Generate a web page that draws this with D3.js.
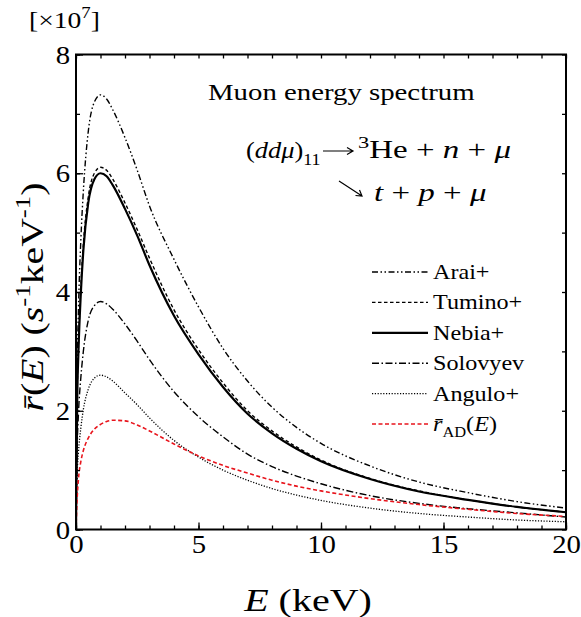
<!DOCTYPE html>
<html><head><meta charset="utf-8">
<script src="https://cdn.jsdelivr.net/npm/d3@7"></script>
<style>
body{margin:0;background:#fff}
svg{display:block}
text{font-family:"Liberation Serif","Times New Roman",serif;fill:#000}
</style>
</head><body><svg id="c" width="581" height="617"></svg>
<script>
// ---- data ----
const energy   = [0, 0.05, 0.1, 0.2, 0.3, 0.5, 0.75, 1, 1.25, 1.5, 2, 2.5, 3, 4, 5, 6, 7, 8, 9, 10, 12, 14, 16, 18, 20];
const arai     = [0, 2.7, 3.7, 4.9, 5.7, 6.7, 7.2, 7.32, 7.25, 7.07, 6.6, 6.05, 5.45, 4.55, 3.75, 3.05, 2.5, 2.06, 1.72, 1.45, 1.07, 0.8, 0.62, 0.47, 0.36];
const tumino   = [0, 2.3, 3.1, 4.1, 4.8, 5.6, 6.0, 6.1, 6.05, 5.9, 5.5, 5.05, 4.57, 3.7, 3.03, 2.47, 2.0, 1.66, 1.39, 1.17, 0.86, 0.65, 0.5, 0.38, 0.29];
const nebia    = [0, 2.2, 3.0, 4.0, 4.7, 5.5, 5.9, 6.0, 5.95, 5.8, 5.4, 4.95, 4.45, 3.6, 2.95, 2.4, 1.95, 1.62, 1.36, 1.15, 0.85, 0.64, 0.5, 0.38, 0.29];
const solovyev = [0, 1.4, 1.95, 2.57, 3.0, 3.52, 3.77, 3.84, 3.8, 3.71, 3.46, 3.17, 2.86, 2.32, 1.9, 1.56, 1.27, 1.06, 0.9, 0.77, 0.57, 0.44, 0.35, 0.28, 0.21];
const angulo   = [0, 0.95, 1.3, 1.72, 2.02, 2.36, 2.55, 2.6, 2.57, 2.5, 2.3, 2.1, 1.88, 1.5, 1.22, 1.0, 0.83, 0.69, 0.58, 0.49, 0.36, 0.27, 0.21, 0.16, 0.13];
const rAD      = [0, 0.55, 0.85, 1.15, 1.33, 1.54, 1.69, 1.77, 1.82, 1.84, 1.83, 1.76, 1.66, 1.44, 1.24, 1.08, 0.95, 0.83, 0.73, 0.65, 0.52, 0.42, 0.34, 0.27, 0.22];
const xTickLabels = [0, 5, 10, 15, 20];
const yTickLabels = [0, 2, 4, 6, 8];
const seriesNames = ["Arai+", "Tumino+", "Nebia+", "Solovyev", "Angulo+", "rAD"];

const series = [
  {name: seriesNames[0], values: arai,     color: "#000", width: 1.4, dash: "6,2.5,1.5,2.5,1.5,2.5"},
  {name: seriesNames[1], values: tumino,   color: "#000", width: 1.4, dash: "3.5,2.5"},
  {name: seriesNames[2], values: nebia,    color: "#000", width: 2.2, dash: null},
  {name: seriesNames[3], values: solovyev, color: "#000", width: 1.4, dash: "7,2.5,1.5,2.5"},
  {name: seriesNames[4], values: angulo,   color: "#000", width: 1.3, dash: "1.2,1.6"},
  {name: seriesNames[5], values: rAD,      color: "#e8141c", width: 1.6, dash: "4,2.5"}
];

const svg = d3.select("#c");
const L = 76, R = 566, T = 54.5, B = 529.5;
const x = d3.scaleLinear().domain([0, 20]).range([L, R]);
const y = d3.scaleLinear().domain([0, 8]).range([B, T]);
const SERIF = '"Liberation Serif","Times New Roman",serif';

svg.append("clipPath").attr("id", "clip").append("rect")
  .attr("x", L).attr("y", T).attr("width", R - L).attr("height", B - T);

// curves
const line = d3.line().x(d => x(d[0])).y(d => y(d[1])).curve(d3.curveMonotoneX);
const cg = svg.append("g").attr("clip-path", "url(#clip)");
series.forEach(s => {
  cg.append("path")
    .datum(energy.map((e, i) => [e, s.values[i]]))
    .attr("d", line).attr("fill", "none")
    .attr("stroke", s.color).attr("stroke-width", s.width)
    .attr("stroke-dasharray", s.dash);
});

// axes
const fs = 25, tsx = 1.15;
function styleAxis(g) {
  g.select(".domain").remove();
  g.selectAll("line").attr("stroke", "#000").attr("stroke-width", 1.3);
  g.selectAll("text").style("font-family", SERIF).attr("font-size", fs).attr("fill", "#000");
}
svg.append("g").attr("transform", `translate(0,${B})`)
  .call(d3.axisBottom(x).tickValues(d3.range(0, 21, 1)).tickSize(-4).tickFormat("")).call(styleAxis);
svg.append("g").attr("transform", `translate(0,${B})`)
  .call(d3.axisBottom(x).tickValues(xTickLabels).tickSize(-7).tickPadding(6).tickFormat(d3.format("d")))
  .call(styleAxis)
  .call(g => g.selectAll("text").attr("dy", "0.72em").attr("transform", `scale(${tsx},1)`));
svg.append("g").attr("transform", `translate(0,${T})`)
  .call(d3.axisTop(x).tickValues(d3.range(0, 21, 1)).tickSize(-4).tickFormat("")).call(styleAxis);
svg.append("g").attr("transform", `translate(${L},0)`)
  .call(d3.axisLeft(y).tickValues(d3.range(0, 9, 1)).tickSize(-4).tickFormat("")).call(styleAxis);
svg.append("g").attr("transform", `translate(${L},0)`)
  .call(d3.axisLeft(y).tickValues(yTickLabels).tickSize(-7).tickPadding(6).tickFormat(d3.format("d")))
  .call(styleAxis)
  .call(g => g.selectAll("text").attr("dy", "0.34em").attr("x", -6 / tsx).attr("transform", `scale(${tsx},1)`));
svg.append("g").attr("transform", `translate(${R},0)`)
  .call(d3.axisRight(y).tickValues(d3.range(0, 9, 1)).tickSize(-4).tickFormat("")).call(styleAxis);

svg.append("rect").attr("x", L).attr("y", T).attr("width", R - L).attr("height", B - T)
  .attr("fill", "none").attr("stroke", "#000").attr("stroke-width", 2);

// text helper: parts = strings or {t, i:italic, sup, sub}
function rich(parent, parts, size, sx) {
  const t = parent.append("text").attr("font-size", size).style("font-family", SERIF)
    .attr("transform", `scale(${sx || 1},1)`);
  let shift = 0;
  parts.forEach(p => {
    if (typeof p === "string") p = {t: p};
    const target = p.sup ? -0.42 * size : p.sub ? 0.3 * size : 0;
    const ts = t.append("tspan").text(p.t);
    if (p.i) ts.attr("font-style", "italic");
    if (p.sup || p.sub) ts.attr("font-size", size * 0.68);
    if (target !== shift) { ts.attr("dy", target - shift); shift = target; }
  });
  return t;
}

// multiplier
rich(svg.append("g").attr("transform", "translate(29,28)"), ["[×10", {t: "7", sup: 1}, "]"], 24, 1.15);

// y label
const yl = svg.append("g").attr("transform", "translate(43,297) rotate(-90)");
rich(yl, [{t: "r\u0304", i: 1}, "(", {t: "E", i: 1}, ") (", {t: "s", i: 1}, {t: "-1", sup: 1}, "keV", {t: "-1", sup: 1}, ")"], 32, 1.24)
  .attr("text-anchor", "middle");

// x label
rich(svg.append("g").attr("transform", "translate(308,611)"), [{t: "E", i: 1}, " (keV)"], 32, 1.25).attr("text-anchor", "middle");

// title and reaction
rich(svg.append("g").attr("transform", "translate(208,100)"), ["Muon energy spectrum"], 24, 1.2);
rich(svg.append("g").attr("transform", "translate(246,158)"), ["(", {t: "ddμ", i: 1}, ")", {t: "11", sub: 1}], 24, 1.1);
rich(svg.append("g").attr("transform", "translate(358,158)"), [{t: "3", sup: 1}, "He + ", {t: "n", i: 1}, " + ", {t: "μ", i: 1}], 25, 1.32);
rich(svg.append("g").attr("transform", "translate(374,201)"), [{t: "t", i: 1}, " + ", {t: "p", i: 1}, " + ", {t: "μ", i: 1}], 25, 1.32);
// arrows
const ar = svg.append("g").attr("stroke", "#000").attr("stroke-width", 1.2).attr("fill", "none");
ar.append("path").attr("d", "M323,151 L353,151 M347,147.5 L353,151 L347,154.5");
ar.append("path").attr("d", "M339,181 L362,196 M355.5,195.5 L362,196 L359.5,190");

// legend
const lg = svg.append("g");
series.forEach((s, i) => {
  const yy = 272 + i * 30.4;
  lg.append("line").attr("x1", 372).attr("x2", 428).attr("y1", yy).attr("y2", yy)
    .attr("stroke", s.color).attr("stroke-width", s.width).attr("stroke-dasharray", s.dash);
  const g = lg.append("g").attr("transform", `translate(433,${yy + 7})`);
  if (i === 5) rich(g, [{t: "r\u0304", i: 1}, {t: "AD", sub: 1}, "(", {t: "E", i: 1}, ")"], 21, 1.15);
  else rich(g, [s.name], 21, 1.15);
});
</script></body></html>
